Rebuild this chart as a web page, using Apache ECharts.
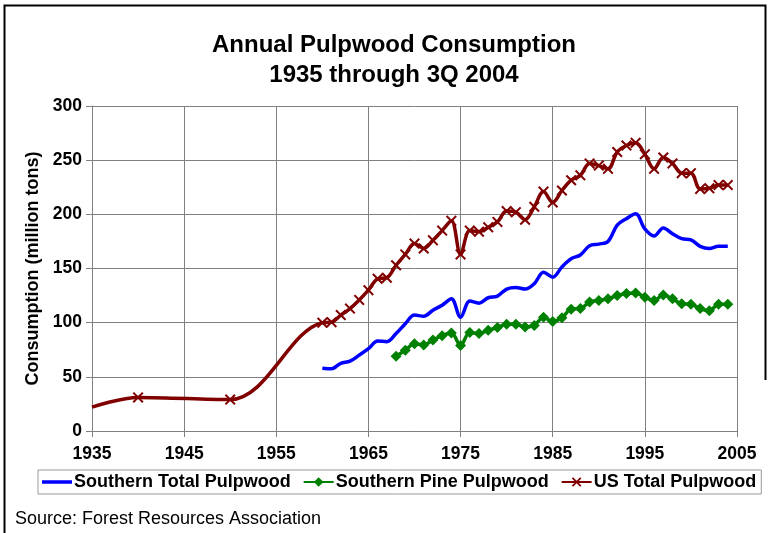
<!DOCTYPE html>
<html>
<head>
<meta charset="utf-8">
<script src="https://cdn.jsdelivr.net/npm/echarts@6/dist/echarts.min.js"></script>
<style>
html,body{margin:0;padding:0;background:#fff;}
#chart{width:769px;height:533px;}
</style>
</head>
<body>
<div id="chart"></div>
<script>
// ---- data ----
var xTicks = [1935, 1945, 1955, 1965, 1975, 1985, 1995, 2005];
var yTicks = [0, 50, 100, 150, 200, 250, 300];

var usYears = [1935, 1940, 1950,
  1960,1961,1962,1963,1964,1965,1966,1967,1968,1969,
  1970,1971,1972,1973,1974,1975,1976,1977,1978,1979,
  1980,1981,1982,1983,1984,1985,1986,1987,1988,1989,
  1990,1991,1992,1993,1994,1995,1996,1997,1998,1999,
  2000,2001,2002,2003,2004];
var usTotal = [22, 31, 29,
  100,100.5,107,113,121,130,140.5,141.5,153,163,
  173,168.5,176,185,194,163,185,184,188,193,
  203,202,195,207,221,211,222,231.5,236,247,
  245,242,257.5,263.5,266,255.5,242,252.5,247,238,
  238,223.5,224,227,227];

var southYears = [1960,1961,1962,1963,1964,1965,1966,1967,1968,1969,
  1970,1971,1972,1973,1974,1975,1976,1977,1978,1979,
  1980,1981,1982,1983,1984,1985,1986,1987,1988,1989,
  1990,1991,1992,1993,1994,1995,1996,1997,1998,1999,
  2000,2001,2002,2003,2004];
var southTotal = [58,57.5,62.5,64.5,70,76,83,82.5,90,99,
  107,106,111.5,116,122,105,120,118,123,124.5,
  131,132.5,131,136,146.5,142,151.5,159,162.5,171,
  172.5,175,190,196,200.5,186.5,180,187.5,182,177.5,
  176.5,170.5,168.5,170.5,170.5];

var pineYears = [1968,1969,
  1970,1971,1972,1973,1974,1975,1976,1977,1978,1979,
  1980,1981,1982,1983,1984,1985,1986,1987,1988,1989,
  1990,1991,1992,1993,1994,1995,1996,1997,1998,1999,
  2000,2001,2002,2003,2004];
var southPine = [69,74.5,
  80.5,79.5,84,88,90.5,79,91,90,93,95.5,
  98.5,98.5,96,97.5,105,101,104.5,112.5,113,119,
  120.5,122,125,127,127.5,123.5,120.5,125.5,122,117.5,
  117,113,111,117,117];

var seriesNames = ['Southern Total Pulpwood', 'Southern Pine Pulpwood', 'US Total Pulpwood'];

// ---- build ----
function pairs(xs, ys) { return xs.map(function (x, i) { return [x, ys[i]]; }); }
var usData = pairs(usYears, usTotal).map(function (p, i) {
  return i === 0 ? { value: p, symbol: 'none' } : { value: p };
});

var FONT = '"Liberation Sans", Arial, sans-serif';
var XPATH = 'path://M0,1.3 L1.3,0 L5,3.7 L8.7,0 L10,1.3 L6.3,5 L10,8.7 L8.7,10 L5,6.3 L1.3,10 L0,8.7 L3.7,5 Z';
// plain line legend icon (bbox 30x12, visible band in the middle)
var LINEICON = 'path://M0,0 L0.01,0 L0,0.01 Z M0,12 L0.01,12 L0,11.99 Z M0,4.25 L30,4.25 L30,7.75 L0,7.75 Z';

var chart = echarts.init(document.getElementById('chart'), null, { renderer: 'canvas' });
chart.setOption({
  animation: false,
  backgroundColor: '#fff',
  title: [{
    text: 'Annual Pulpwood Consumption\n1935 through 3Q 2004',
    left: 389, top: 25, textAlign: 'center',
    textStyle: { fontFamily: FONT, fontWeight: 'bold', fontSize: 24, lineHeight: 30, color: '#000' }
  }, {
    text: 'Source: Forest Resources Association',
    left: 10, top: 505,
    textStyle: { fontFamily: FONT, fontWeight: 'normal', fontSize: 18, color: '#000' }
  }],
  grid: { left: 92, right: 32, top: 106, bottom: 102, containLabel: false },
  legend: {
    data: [{ name: seriesNames[0], icon: LINEICON }, seriesNames[1], seriesNames[2]],
    left: 38, top: 470,
    padding: [3, 5, 3, 4],
    itemWidth: 30, itemHeight: 12, itemGap: 12,
    borderColor: '#999', borderWidth: 1,
    textStyle: { fontFamily: FONT, fontWeight: 'bold', fontSize: 18, color: '#000', padding: [0, 0, 0, -3] }
  },
  xAxis: {
    type: 'value', min: 1935, max: 2005, interval: 10,
    axisLine: { show: true, lineStyle: { color: '#808080', width: 1 } },
    axisTick: { show: true, inside: false, length: 6, lineStyle: { color: '#808080' } },
    splitLine: { show: true, lineStyle: { color: '#808080', width: 1 } },
    axisLabel: {
      margin: 14, fontFamily: FONT, fontWeight: 'bold', fontSize: 17.5, color: '#000',
      formatter: function (v) { return xTicks.indexOf(v) >= 0 ? String(v) : ''; }
    }
  },
  yAxis: {
    type: 'value', min: 0, max: 300, interval: 50,
    name: 'Consumption (million tons)', nameLocation: 'middle', nameRotate: 90, nameGap: 45,
    nameTextStyle: { fontFamily: FONT, fontWeight: 'bold', fontSize: 18, color: '#000' },
    axisLine: { show: true, lineStyle: { color: '#808080', width: 1 } },
    axisTick: { show: true, inside: false, length: 6, lineStyle: { color: '#808080' } },
    splitLine: { show: true, lineStyle: { color: '#808080', width: 1 } },
    axisLabel: {
      margin: 10, fontFamily: FONT, fontWeight: 'bold', fontSize: 17.5, color: '#000',
      formatter: function (v) { return yTicks.indexOf(v) >= 0 ? String(v) : ''; }
    }
  },
  series: [{
    name: seriesNames[0], type: 'line', smooth: 0.35,
    data: pairs(southYears, southTotal),
    symbol: 'none',
    lineStyle: { color: '#0000FF', width: 3.5 },
    itemStyle: { color: '#0000FF' }
  }, {
    name: seriesNames[1], type: 'line', smooth: 0.35,
    data: pairs(pineYears, southPine),
    symbol: 'diamond', symbolSize: 11, showAllSymbol: true,
    lineStyle: { color: '#008000', width: 3.5 },
    itemStyle: { color: '#008000' }
  }, {
    name: seriesNames[2], type: 'line', smooth: 0.35,
    data: usData,
    symbol: XPATH, symbolSize: 11, showAllSymbol: true,
    lineStyle: { color: '#800000', width: 3.5 },
    itemStyle: { color: '#800000' }
  }],
  graphic: [{
    type: 'polyline', silent: true,
    shape: { points: [[4.5, 533], [4.5, 5.5], [765.5, 5.5], [765.5, 380]] },
    style: { stroke: '#000', lineWidth: 2, fill: null }
  }]
});
</script>
</body>
</html>
